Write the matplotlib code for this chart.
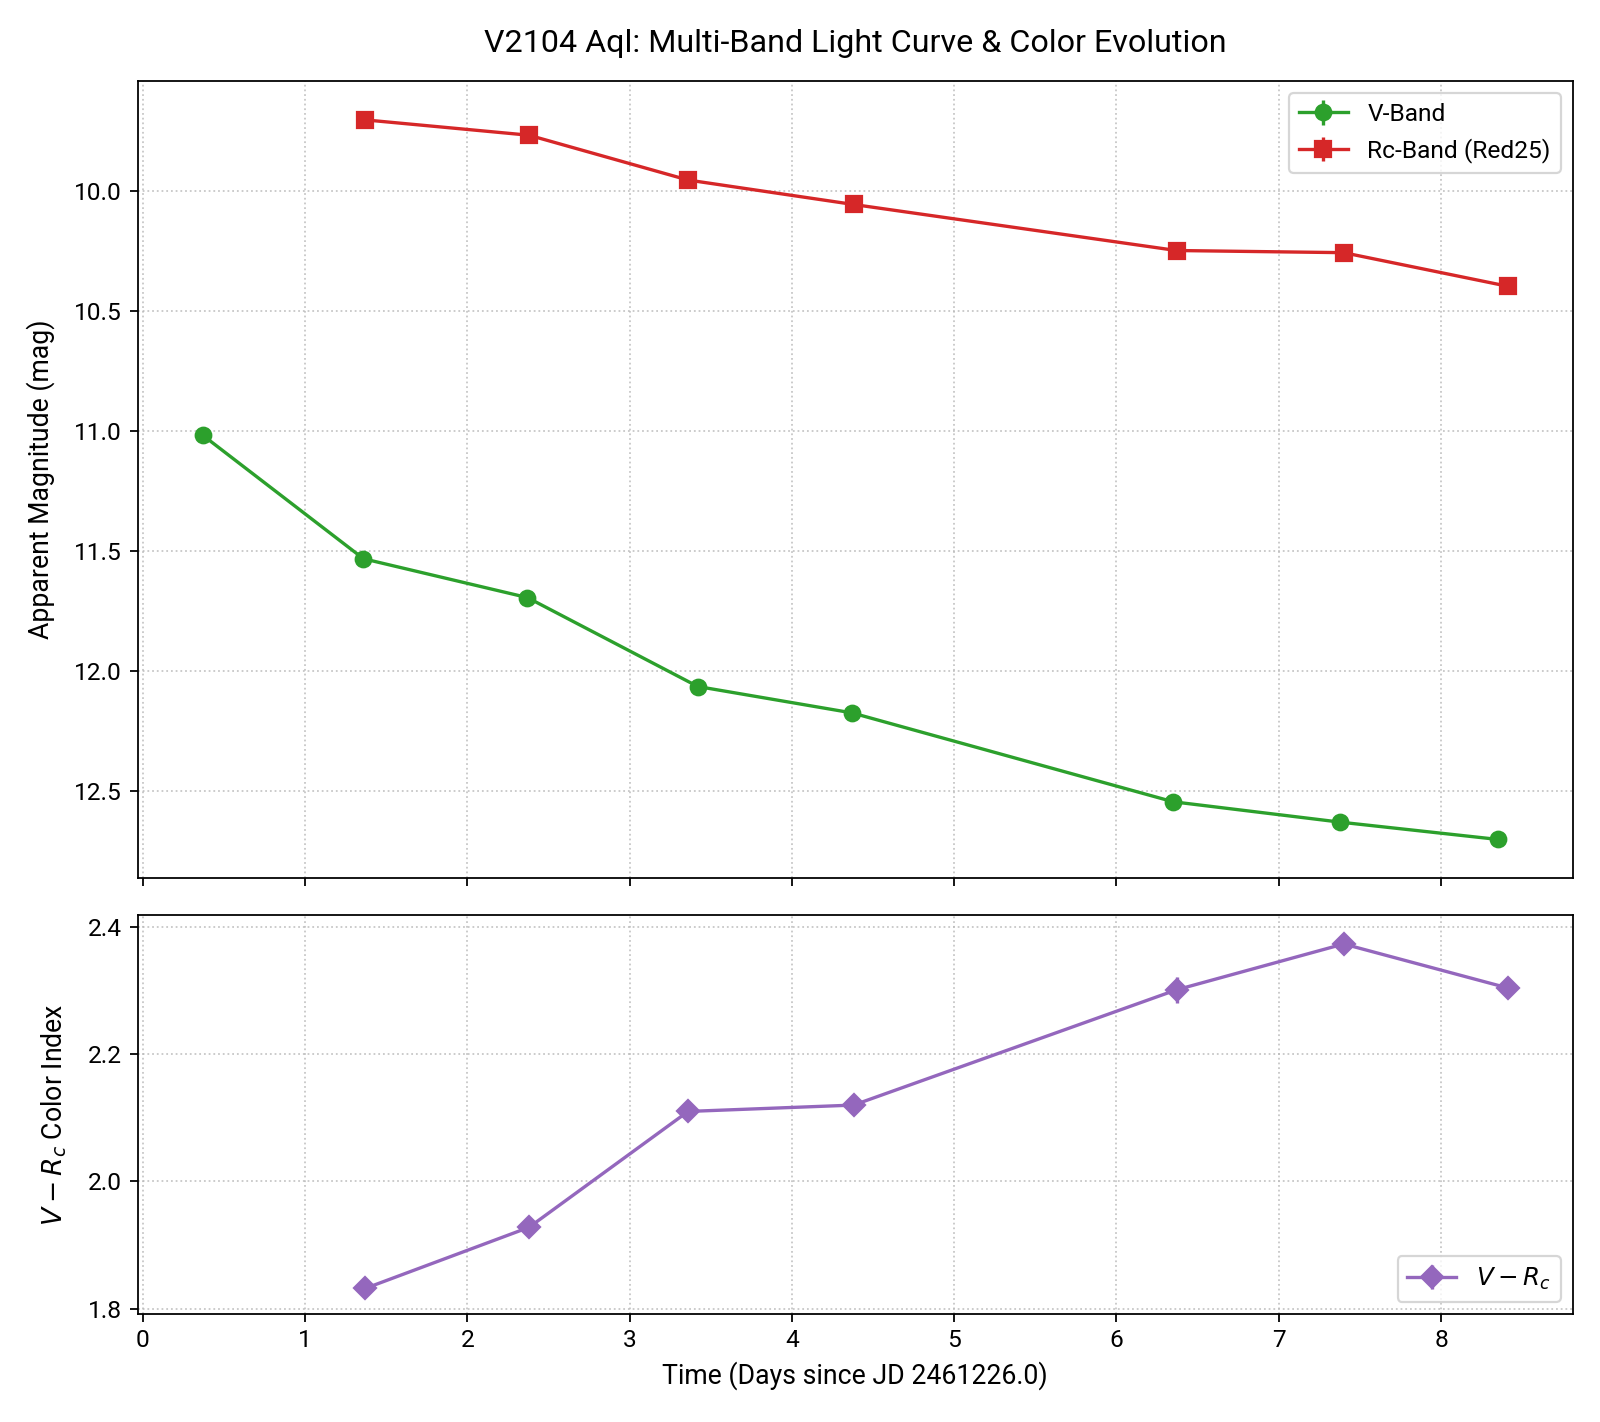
import matplotlib
matplotlib.use('Agg')
import matplotlib.pyplot as plt

plt.rcParams['font.family'] = ['Roboto', 'DejaVu Sans']

# Data (days since JD 2461226.0)
t_v = [0.37, 1.36, 2.37, 3.42, 4.37, 6.35, 7.38, 8.35]
mag_v = [11.018, 11.533, 11.695, 12.066, 12.176, 12.547, 12.632, 12.704]
err_v = [0.010, 0.010, 0.010, 0.012, 0.010, 0.012, 0.012, 0.012]

t_r = [1.37, 2.38, 3.36, 4.38, 6.37, 7.40, 8.41]
mag_r = [9.702, 9.766, 9.953, 10.055, 10.247, 10.256, 10.396]
err_r = [0.008, 0.008, 0.010, 0.008, 0.008, 0.008, 0.008]

vr = [1.832, 1.928, 2.110, 2.120, 2.301, 2.373, 2.304]
err_vr = [0.010, 0.010, 0.012, 0.010, 0.020, 0.012, 0.010]

fig, (ax1, ax2) = plt.subplots(2, 1, sharex=True, figsize=(10, 8.8875),
                               gridspec_kw={'height_ratios': [2, 1]})
fig.subplots_adjust(left=0.086, right=0.983, top=0.943, bottom=0.076, hspace=0.062)

#Panel atas: kurva cahaya
ax1.errorbar(t_v, mag_v, yerr=err_v, fmt='-o', color='#2ca02c', markersize=7,
             linewidth=1.5, capsize=0, label='V-Band')
ax1.errorbar(t_r, mag_r, yerr=err_r, fmt='-s', color='#d62728', markersize=7,
             linewidth=1.5, capsize=0, label='Rc-Band (Red25)')
ax1.set_ylim(12.866, 9.54)
ax1.set_ylabel('Apparent Magnitude (mag)', fontsize=12, labelpad=8.5)
ax1.set_title('V2104 Aql: Multi-Band Light Curve & Color Evolution', fontsize=14.5, pad=13)
ax1.grid(color='#b8b8b8', linestyle=':', linewidth=0.8, alpha=0.8)
ax1.legend(loc='upper right', fontsize=11)
ax1.tick_params(labelsize=11)

#Panel bawah: indeks warna
ax2.errorbar(t_r, vr, yerr=err_vr, fmt='-D', color='#9467bd', markersize=7,
             linewidth=1.5, capsize=0, label='$V - R_c$')
ax2.set_ylim(1.792, 2.418)
ax2.set_yticks([1.8, 2.0, 2.2, 2.4])
ax2.set_ylabel('$V - R_c$ Color Index', fontsize=12, labelpad=8.5)
ax2.set_xlabel('Time (Days since JD 2461226.0)', fontsize=12)
ax2.grid(color='#b8b8b8', linestyle=':', linewidth=0.8, alpha=0.8)
ax2.legend(loc='lower right', fontsize=11)
ax2.tick_params(labelsize=11)

fig.savefig('out.png', dpi=160)
